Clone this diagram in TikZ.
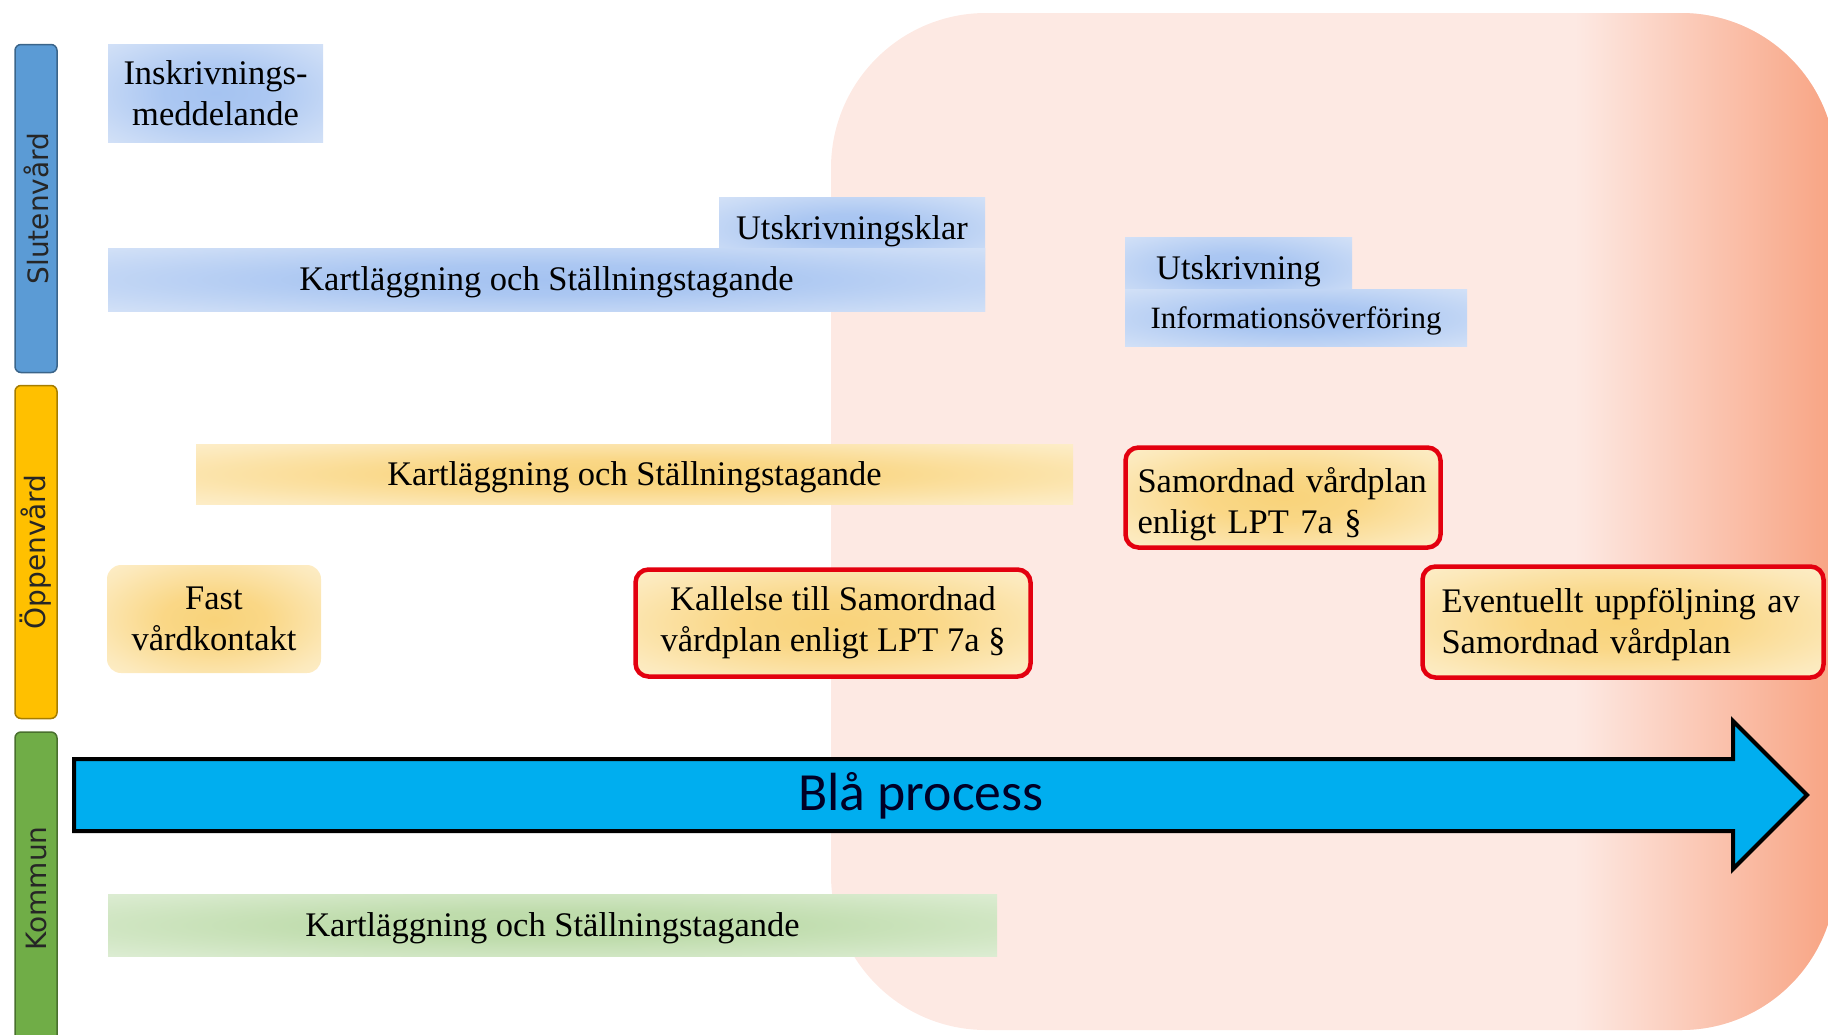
\documentclass[tikz,border=0pt]{standalone}
\usepackage{fontspec}
\setmainfont{Liberation Serif}
\newfontfamily\lanefont{DejaVu Sans}
\newfontfamily\pilfont{Carlito}
\usetikzlibrary{calc,positioning}
\definecolor{bgpink}{HTML}{FDE9E3}
\definecolor{bgsalmon}{HTML}{F8A382}
\definecolor{slutblue}{HTML}{5B9BD5}
\definecolor{oppgold}{HTML}{FFC000}
\definecolor{komgreen}{HTML}{70AD47}
\definecolor{lightblue}{HTML}{A5C3F1}
\definecolor{paleblue}{HTML}{E2EBF9}
\definecolor{lightgold}{HTML}{F9D37A}
\definecolor{palegold}{HTML}{FEF5DF}
\definecolor{lightgreen}{HTML}{BBDAA7}
\definecolor{palegreen}{HTML}{E8F3E2}
\definecolor{lptred}{HTML}{E3000F}
\definecolor{processblue}{HTML}{00AEEF}
\pgfdeclareradialshading{blueglow}{\pgfpoint{0bp}{0bp}}{color(0bp)=(lightblue); color(12bp)=(lightblue!90!paleblue); color(30bp)=(lightblue!40!paleblue); color(46bp)=(paleblue); color(50bp)=(paleblue)}
\pgfdeclareradialshading{goldglow}{\pgfpoint{0bp}{0bp}}{color(0bp)=(lightgold); color(12bp)=(lightgold!88!palegold); color(30bp)=(lightgold!35!palegold); color(46bp)=(palegold); color(50bp)=(palegold)}
\pgfdeclareradialshading{greenglow}{\pgfpoint{0bp}{0bp}}{color(0bp)=(lightgreen); color(12bp)=(lightgreen!90!palegreen); color(30bp)=(lightgreen!40!palegreen); color(46bp)=(palegreen); color(50bp)=(palegreen)}

\begin{document}
\begin{tikzpicture}[x=1pt,y=-1pt,
  every node/.style={inner sep=0pt,align=center,font=\fontsize{34.5}{41}\selectfont},
  lane/.style={draw=#1!65!black,fill=#1,line width=1.5pt,rounded corners=6pt,rotate=90,minimum height=42pt,font=\lanefont\fontsize{28}{30}\selectfont,text=black!85},
  slutbox/.style={shade,shading=blueglow},
  oppbox/.style={shade,shading=goldglow},
  kombox/.style={shade,shading=greenglow},
  lptbox/.style={oppbox,draw=lptred,line width=4.5pt,rounded corners=13pt}]
\useasboundingbox (0,0) rectangle (1828,1034);
\fill[bgpink,rounded corners=155pt] (831,13) rectangle (1836,1030);
\begin{scope}
\clip[rounded corners=155pt] (831,13) rectangle (1836,1030);
\shade[left color=bgpink,right color=bgsalmon] (1575,0) rectangle (1836,1034);
\end{scope}
\node[lane=slutblue,minimum width=328pt] (Slutenvard) at (36,208.5) {Slutenvård};
\node[lane=oppgold,minimum width=333pt] (Oppenvard) at (36,552) {Öppenvård};
\node[lane=komgreen,minimum width=313pt] (Kommun) at (36,888.5) {Kommun};
\node[slutbox,minimum width=215pt,minimum height=98pt] (Inskrivning) at (215.5,93) {Inskrivnings-\\meddelande};
\node[slutbox,minimum width=877pt,minimum height=63pt] (SlutKartlaggning) at (546.5,279.5) {};
\node[slutbox,anchor=south east,minimum width=266pt,minimum height=62pt] (Utskrivningsklar) at ($(SlutKartlaggning.north east)+(0,12)$) {\rule{0pt}{30pt}Utskrivningsklar};
\node[slutbox,minimum width=877pt,minimum height=63pt] (SlutKartlaggningText) at (SlutKartlaggning) {\rule{0pt}{30pt}Kartläggning och Ställningstagande};
\node[slutbox,minimum width=227pt,minimum height=63pt] (Utskrivning) at (1238.5,268.5) {\rule{0pt}{30pt}Utskrivning};
\node[slutbox,anchor=north west,minimum width=342pt,minimum height=57pt,font=\fontsize{31}{36}\selectfont] (Informationsoverforing) at ($(Utskrivning.south west)+(0,-11)$) {\rule{0pt}{27pt}Informationsöverföring};
\node[oppbox,minimum width=877pt,minimum height=60pt] (OppKartlaggning) at (634.5,474) {\rule{0pt}{30pt}Kartläggning och Ställningstagande};
\node[lptbox,minimum height=100pt,text width=291pt,inner xsep=12pt,align=left] (SamordnadVardplan) at (1283,497.5) {\rule{0pt}{38pt}Samordnad vårdplan\\enligt LPT 7a §};
\node[oppbox,rounded corners=14pt,minimum width=214pt,minimum height=108pt] (FastVardkontakt) at (214,619) {Fast\\vårdkontakt};
\node[lptbox,minimum width=395pt,minimum height=107pt] (Kallelse) at (833,623) {Kallelse till Samordnad\\vårdplan enligt LPT 7a §};
\node[lptbox,minimum height=111pt,text width=363pt,inner xsep=19pt,align=left] (Uppfoljning) at (1623,622) {\rule{0pt}{30pt}Eventuellt uppföljning av\\Samordnad vårdplan};
\coordinate (ProcStart) at (74,795);
\coordinate (ProcTip) at (1807,795);
\draw[fill=processblue,line width=4pt,line join=miter] ($(ProcStart)+(0,-36)$) -- ($(ProcTip)+(-74,-36)$) -- ($(ProcTip)+(-74,-74)$) -- (ProcTip) -- ($(ProcTip)+(-74,74)$) -- ($(ProcTip)+(-74,36)$) -- ($(ProcStart)+(0,36)$) -- cycle;
\node[font=\pilfont\fontsize{53.7}{60}\selectfont,text=black!85!blue] (BlaProcess) at (921,796) {Blå process};
\node[kombox,minimum width=889pt,minimum height=62pt] (KomKartlaggning) at (552.5,925) {\rule{0pt}{30pt}Kartläggning och Ställningstagande};
\end{tikzpicture}
\end{document}
